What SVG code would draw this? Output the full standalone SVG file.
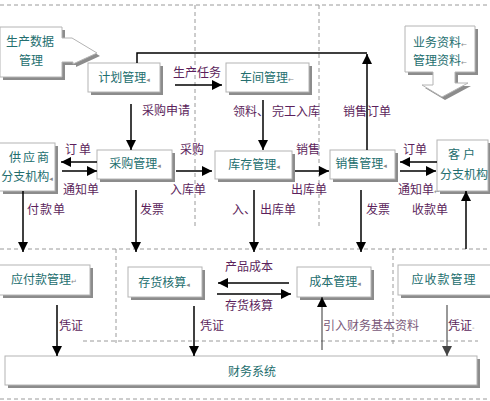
<svg xmlns="http://www.w3.org/2000/svg" width="490" height="401" viewBox="0 0 490 401">
<style>
.sh{fill:#8c8c8c}
.bx{fill:#fff;stroke:#b4b4b4;stroke-width:1}
.nt{font-family:"Noto Sans CJK SC","Noto Sans",sans-serif;font-size:12px;fill:#236e6e;text-anchor:middle}
.lb{font-family:"Noto Sans CJK SC","Noto Sans",sans-serif;font-size:12px;fill:#5c1f5c}
.lg{fill:#7a5a7a}
.mk{font-family:"DejaVu Sans",sans-serif;font-size:7px;fill:#888}
.ln{stroke:#000;stroke-width:1.5;fill:none}
.lt{stroke:#333;stroke-width:1;fill:none}
.ds{stroke:#9a9a9a;stroke-width:1;stroke-dasharray:4 3;fill:none}
</style>
<defs>
<marker id="ah" viewBox="0 0 10 10" refX="10" refY="5" markerWidth="10" markerHeight="10" markerUnits="userSpaceOnUse" orient="auto"><path d="M0,0 L10,5 L0,10 z" fill="#000"/></marker>
<marker id="ag" viewBox="0 0 10 10" refX="10" refY="5" markerWidth="10" markerHeight="10" markerUnits="userSpaceOnUse" orient="auto"><path d="M0,0 L10,5 L0,10 z" fill="#444"/></marker>
</defs>

<g id="regions">
<path class="ds" d="M0,5 H490 M195,5 V228 M319,5 V228 M0,249 H490 M116,249 V343 M393,249 V345 M83,341 H478 M0,399 H490"/>
</g>

<g id="n-scsj">
<path class="sh" d="M3,30 H65 V41 H75 L100,56 L76,67 V65 H65 V80 H3 Z"/>
<path class="bx" d="M0,27 H62 V38 H72 L97,53 L73,64 V62 H62 V77 H0 Z"/>
<text class="nt" x="30" y="46">生产数据</text>
<text class="nt" x="31" y="65">管理</text>
</g>

<g id="n-ywzl">
<path class="sh" d="M408,29 H478 V75 H458 V86 H471 L445,100 L425,88 H436 V75 H408 Z"/>
<path class="bx" d="M405,26 H475 V72 H455 V83 H468 L442,97 L422,85 H433 V72 H405 Z"/>
<text class="nt" x="440" y="47">业务资料<tspan class="mk">←</tspan></text>
<text class="nt" x="440" y="65">管理资料<tspan class="mk">←</tspan></text>
</g>

<g id="n-jhgl">
<rect class="sh" x="91" y="66" width="72" height="29"/>
<rect class="bx" x="88" y="63" width="72" height="29"/>
<text class="nt" x="124" y="82">计划管理<tspan class="mk">◂</tspan></text>
</g>

<g id="n-cjgl">
<rect class="sh" x="229" y="66" width="83" height="29"/>
<rect class="bx" x="226" y="63" width="83" height="29"/>
<text class="nt" x="267" y="82">车间管理<tspan class="mk">←</tspan></text>
</g>

<g id="n-gys">
<rect class="sh" x="3" y="146" width="55" height="48"/>
<rect class="bx" x="-1" y="143" width="56" height="48"/>
<text class="nt" x="30" y="162" letter-spacing="2">供应商</text>
<text class="nt" x="27" y="181">分支机构<tspan class="mk">◂</tspan></text>
</g>

<g id="n-cggl">
<rect class="sh" x="100" y="153" width="75" height="29"/>
<rect class="bx" x="97" y="150" width="75" height="29"/>
<text class="nt" x="135" y="168">采购管理<tspan class="mk">◂</tspan></text>
</g>

<g id="n-kcgl">
<rect class="sh" x="218" y="154" width="77" height="28"/>
<rect class="bx" x="215" y="151" width="77" height="28"/>
<text class="nt" x="254" y="169">库存管理<tspan class="mk">◂</tspan></text>
</g>

<g id="n-xsgl">
<rect class="sh" x="333" y="153" width="65" height="29"/>
<rect class="bx" x="330" y="150" width="65" height="29"/>
<text class="nt" x="361" y="168">销售管理<tspan class="mk">◂</tspan></text>
</g>

<g id="n-kh">
<rect class="sh" x="440" y="143" width="50" height="51"/>
<rect class="bx" x="437" y="140" width="51" height="51"/>
<text class="nt" x="463" y="159" letter-spacing="3">客户</text>
<text class="nt" x="464" y="179">分支机构</text>
</g>

<g id="n-yfk">
<rect class="sh" x="3" y="268" width="90" height="30"/>
<rect class="bx" x="-1" y="265" width="91" height="30"/>
<text class="nt" x="44" y="284">应付款管理<tspan class="mk">↵</tspan></text>
</g>

<g id="n-chhs">
<rect class="sh" x="131" y="270" width="74" height="30"/>
<rect class="bx" x="128" y="267" width="74" height="30"/>
<text class="nt" x="164" y="287">存货核算<tspan class="mk">◂</tspan></text>
</g>

<g id="n-cbgl">
<rect class="sh" x="300" y="270" width="74" height="30"/>
<rect class="bx" x="297" y="267" width="74" height="30"/>
<text class="nt" x="335" y="286">成本管理<tspan class="mk">◂</tspan></text>
</g>

<g id="n-ysk">
<rect class="sh" x="401" y="268" width="92" height="30"/>
<rect class="bx" x="398" y="265" width="93" height="30"/>
<text class="nt" x="444" y="284" letter-spacing="1">应收款管理</text>
</g>

<g id="n-cwxt">
<rect class="sh" x="8" y="359" width="472" height="29"/>
<rect class="bx" x="5" y="356" width="472" height="29"/>
<text class="nt" x="252" y="376">财务系统</text>
</g>

<g id="connectors">
<path class="ln" d="M137,63 V53 H367"/>
<path class="ln" marker-end="url(#ah)" d="M367,150 V54"/>
<path class="ln" marker-end="url(#ah)" d="M175,85 H222"/>
<path class="ln" marker-end="url(#ah)" d="M131,104 V150"/>
<path class="ln" marker-end="url(#ah)" d="M263,100 V150"/>
<path class="ln" marker-end="url(#ah)" d="M97,162 H61"/>
<path class="ln" marker-end="url(#ah)" d="M62,171 H97"/>
<path class="ln" marker-end="url(#ah)" d="M176,171 H212"/>
<path class="ln" marker-end="url(#ah)" d="M295,171 H329"/>
<path class="ln" marker-end="url(#ah)" d="M437,162 H400"/>
<path class="ln" marker-end="url(#ah)" d="M400,171 H436"/>
<path class="ln" marker-end="url(#ah)" d="M23,191 V252"/>
<path class="ln" marker-end="url(#ah)" d="M136,190 V252"/>
<path class="ln" marker-end="url(#ah)" d="M254,190 V252"/>
<path class="ln" marker-end="url(#ah)" d="M361,190 V252"/>
<path class="ln" marker-end="url(#ah)" d="M466,249 V191"/>
<path class="ln" marker-end="url(#ah)" d="M289,283 H218"/>
<path class="ln" marker-end="url(#ah)" d="M217,294 H291"/>
<path class="ln" marker-end="url(#ah)" d="M57,305 V356"/>
<path class="ln" marker-end="url(#ah)" d="M194,306 V356"/>
<path class="lt" marker-end="url(#ag)" d="M447,305 V356"/>
<path class="lt" marker-end="url(#ah)" d="M322,350 V297"/>
</g>

<g id="labels">
<text class="lb" x="173" y="77">生产任务</text>
<text class="lb" x="142" y="115">采购申请</text>
<text class="lb" x="233" y="116"><tspan x="233">领料、</tspan><tspan x="272">完工入库</tspan></text>
<text class="lb" x="343" y="116">销售订单</text>
<text class="lb" x="65" y="154" letter-spacing="2">订单</text>
<text class="lb" x="63" y="194">通知单</text>
<text class="lb" x="180" y="154">采购</text>
<text class="lb" x="170" y="194">入库单</text>
<text class="lb" x="296" y="154">销售</text>
<text class="lb" x="291" y="194">出库单</text>
<text class="lb" x="403" y="154">订单</text>
<text class="lb" x="398" y="194">通知单<tspan class="mk">←</tspan></text>
<text class="lb" x="27" y="214" letter-spacing="1">付款单</text>
<text class="lb" x="140" y="214">发票</text>
<text class="lb" x="232" y="214"><tspan x="232">入、</tspan><tspan x="260">出库单</tspan></text>
<text class="lb" x="366" y="214">发票</text>
<text class="lb" x="412" y="214">收款单</text>
<text class="lb" x="225" y="271">产品成本</text>
<text class="lb" x="225" y="310">存货核算</text>
<text class="lb" x="59" y="330">凭证</text>
<text class="lb" x="200" y="330">凭证</text>
<text class="lb lg" x="323" y="330">引入财务基本资料</text>
<text class="lb" x="448" y="330">凭证<tspan class="mk">-</tspan></text>
</g>
</svg>
